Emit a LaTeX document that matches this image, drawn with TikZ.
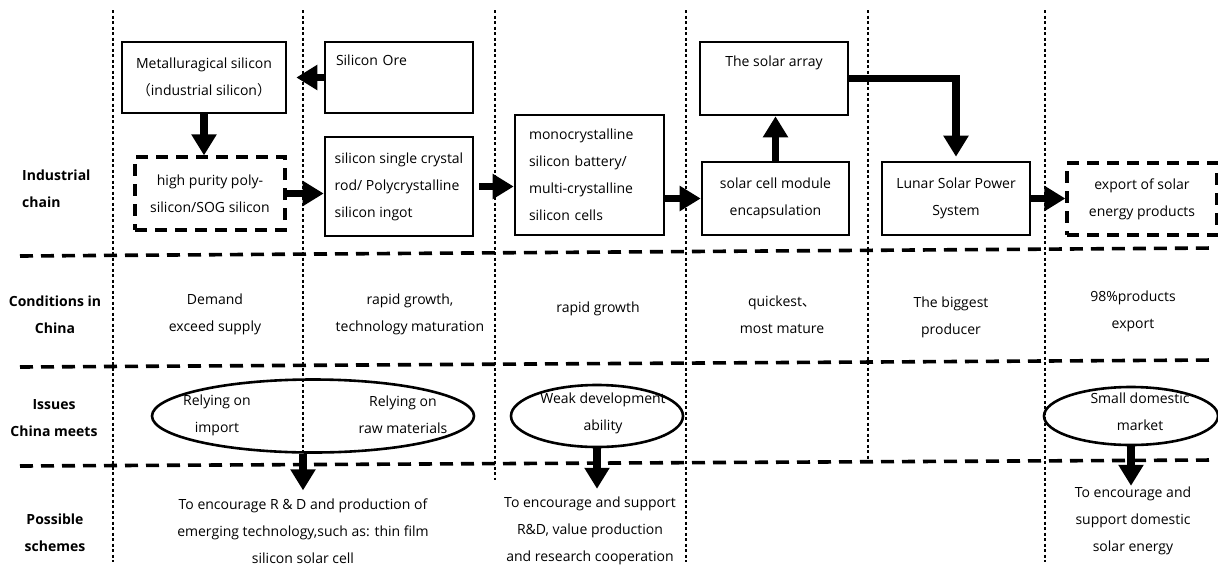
\documentclass[tikz,border=0pt]{standalone}
\usepackage{fontspec}
\setmainfont{Open Sans}
\newfontfamily\cjk{Noto Sans CJK SC}
\usetikzlibrary{arrows.meta,shapes.geometric}

\begin{document}
\begin{tikzpicture}[x=1pt,y=-1pt,font=\fontsize{14}{27}\selectfont]
      \tikzstyle{stage}=[rectangle,draw,line width=2.6pt,align=center,inner sep=0pt]
      \tikzstyle{future}=[stage,dash pattern=on 12pt off 8pt,line width=3.2pt]
      \tikzstyle{issue}=[ellipse,draw,line width=2.6pt,inner sep=0pt]
      \tikzstyle{info}=[align=center,inner sep=0pt]
      \tikzstyle{rowlabel}=[info,font=\fontsize{14}{27}\selectfont\bfseries]
      \tikzstyle{flow}=[line width=7.5pt,-{Triangle[length=21pt,width=24pt]}]
      \tikzstyle{colline}=[line width=1.5pt,dash pattern=on 3pt off 2.5pt]
      \tikzstyle{rowline}=[line width=3.6pt,dash pattern=on 13pt off 8pt]
      \useasboundingbox (0,0) rectangle (1218,571);
      % columns and rows
      \draw[colline] (113,10) -- (113,562);
      \draw[colline] (303,10) -- (303,462);
      \draw[colline] (495,10) -- (495,480);
      \draw[colline] (686,10) -- (686,562);
      \draw[colline] (868,10) -- (868,462);
      \draw[colline] (1045,10) -- (1045,562);
      \draw[rowline] (20,256) -- (1215,248);
      \draw[rowline] (20,367) -- (1215,360);
      \draw[rowline] (20,466) -- (1215,460);
      % row names
      \node[rowlabel,align=left,anchor=west] (chainlbl) at (22,189) {Industrial\\chain};
      \node[rowlabel] (condlbl) at (55,315) {Conditions in\\China};
      \node[rowlabel] (issuelbl) at (54,418) {Issues\\China meets};
      \node[rowlabel] (schemelbl) at (55,533) {Possible\\schemes};
      % industrial chain
      \node[stage,minimum width=164pt,minimum height=71pt] (metal) at (204,77.5) {Metalluragical silicon\\{\cjk （}industrial silicon{\cjk ）}};
      \node[stage,minimum width=148pt,minimum height=71pt,text width=126pt,align=left] (ore) at (399,77.5) {Silicon Ore\\\strut};
      \node[future,minimum width=150pt,minimum height=73pt] (hp) at (210,193.5) {high purity poly-\\silicon/SOG silicon};
      \node[stage,minimum width=148pt,minimum height=99pt,align=left] (ssc) at (399,186.5) {silicon single crystal\\rod/ Polycrystalline\\silicon ingot};
      \node[stage,minimum width=149pt,minimum height=120pt,text width=121pt,align=left] (mono) at (589.5,175) {monocrystalline\\silicon battery/\\multi-crystalline\\silicon cells};
      \node[stage,minimum width=148pt,minimum height=73pt] (array) at (774,78.5) {The solar array\\\strut};
      \node[stage,minimum width=147pt,minimum height=73pt] (module) at (775.5,198.5) {solar cell module\\encapsulation};
      \node[stage,minimum width=148pt,minimum height=73pt] (lunar) at (956,198.5) {Lunar Solar Power\\System};
      \node[future,minimum width=150pt,minimum height=72pt] (export) at (1142,199) {export of solar\\energy products};
      \draw[flow,shorten >=9pt] (ore) -- (metal);
      \draw[flow] (metal.south) -- (metal.south |- hp.north);
      \draw[flow] (hp.east) -- (hp.east -| ssc.west);
      \draw[flow,shorten <=5pt] (ssc.east) -- (ssc.east -| mono.west);
      \draw[flow] (mono.east |- module.west) -- (module.west);
      \draw[flow] (module.north) -- (module.north |- array.south);
      \draw[flow,shorten >=4pt] (array.east) -| (lunar.north);
      \draw[flow] (lunar.east) -- (lunar.east -| export.west);
      % conditions
      \node[info] (condA) at (215,314) {Demand\\exceed supply};
      \node[info] (condB) at (410,314) {rapid growth,\\technology maturation};
      \node[info] (condC) at (598,309) {rapid growth};
      \node[info] (condD) at (782,315) {quickest{\cjk 、}\\most mature};
      \node[info] (condE) at (951,317) {The biggest\\producer};
      \node[info] (condF) at (1133,311) {98\%products\\export};
      % issues
      \node[issue,minimum width=322pt,minimum height=73pt] (issueA) at (313,416) {};
      \node[info] (relyA) at (217,415) {Relying on\\import};
      \node[info] (relyB) at (403,415) {Relying on\\raw materials};
      \node[issue,minimum width=172pt,minimum height=62pt] (issueB) at (597,416) {};
      \node[info] (weak) at (603,413) {Weak development\\ability};
      \node[issue,minimum width=174pt,minimum height=58pt] (issueC) at (1131,416) {};
      \node[info] (small) at (1140,412) {Small domestic\\market};
      % schemes
      \node[info] (schemeA) at (303,531) {To encourage R \& D and production of\\emerging technology,such as: thin film\\silicon solar cell};
      \node[info] (schemeB) at (590,531) {To encourage and support\\R\&D, value production\\and research cooperation};
      \node[info] (schemeC) at (1133,521) {To encourage and\\support domestic\\solar energy};
      \draw[flow,shorten >=8pt] (issueA.south -| schemeA.north) -- (schemeA.north);
      \draw[flow,shorten >=8pt] (issueB.south) -- (issueB.south |- schemeB.north);
      \draw[flow,shorten >=1pt] (issueC.south) -- (issueC.south |- schemeC.north);
\end{tikzpicture}
\end{document}
